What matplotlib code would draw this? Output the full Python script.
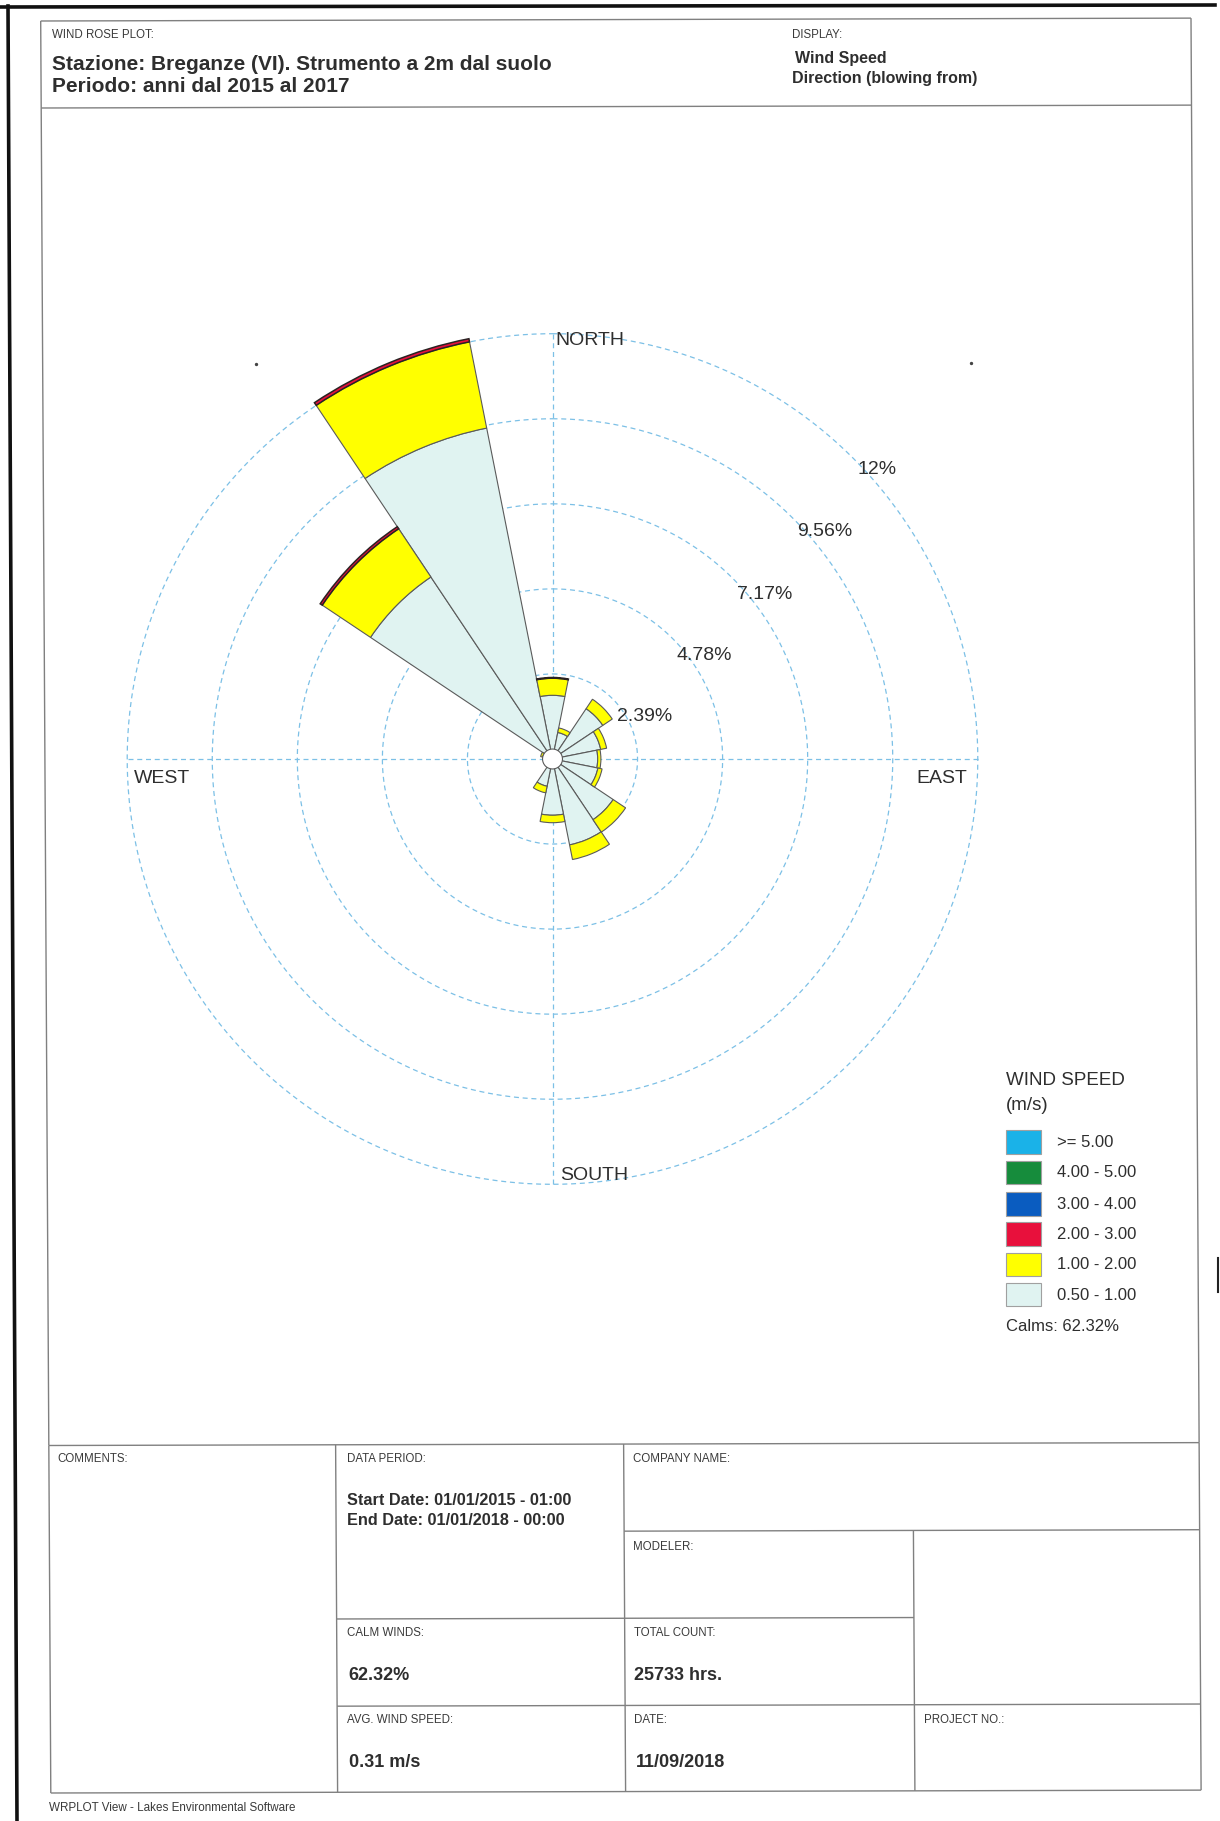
import numpy as np
import matplotlib
matplotlib.use('Agg')
import matplotlib.pyplot as plt
from matplotlib.patches import Rectangle, Circle

plt.rcParams['font.family'] = ['Liberation Sans', 'DejaVu Sans']

# ---------------- data ----------------
directions = ['N', 'NNE', 'NE', 'ENE', 'E', 'ESE', 'SE', 'SSE',
              'S', 'SSW', 'SW', 'WSW', 'W', 'WNW', 'NW', 'NNW']
# frequency (%) per wind-speed class and direction
freq_05_10 = [1.79, 0.76, 1.70, 1.38, 1.27, 1.30, 2.05, 2.46,
              1.58, 0.78, 0.10, 0.08, 0.10, 0.28, 6.15, 9.48]
freq_10_20 = [0.48, 0.13, 0.32, 0.17, 0.09, 0.12, 0.42, 0.42,
              0.21, 0.19, 0.00, 0.00, 0.00, 0.06, 1.63, 2.47]
freq_20_30 = [0.02, 0.00, 0.00, 0.00, 0.00, 0.00, 0.00, 0.00,
              0.00, 0.00, 0.00, 0.00, 0.00, 0.00, 0.07, 0.09]
freq_30_40 = [0.0] * 16
freq_40_50 = [0.0] * 16
freq_ge_50 = [0.0] * 16

class_labels = ['0.50 - 1.00', '1.00 - 2.00', '2.00 - 3.00',
                '3.00 - 4.00', '4.00 - 5.00', '>= 5.00']
ring_values = [2.39, 4.78, 7.17, 9.56, 11.95]
ring_labels = ['2.39%', '4.78%', '7.17%', '9.56%', '12%']
cardinal_labels = ['NORTH', 'EAST', 'SOUTH', 'WEST']
calms_pct = 62.32

title_lines = ['Stazione: Breganze (VI). Strumento a 2m dal suolo',
               'Periodo: anni dal 2015 al 2017']
display_lines = ['Wind Speed', 'Direction (blowing from)']
start_date = 'Start Date: 01/01/2015 - 01:00'
end_date = 'End Date: 01/01/2018 - 00:00'
total_count = '25733 hrs.'
avg_speed = '0.31 m/s'
report_date = '11/09/2018'

# ---------------- styles ----------------
class_colors = ['#e0f3f1', '#ffff00', '#e8103c', '#0a5cc0', '#168c3c', '#1ab2e8']
grid_color = '#7cc0e6'
txt_color = '#2e2e2e'
line_color = '#808080'

W, H = 1220, 1821
fig = plt.figure(figsize=(W / 100, H / 100), dpi=100)
fig.patch.set_facecolor('white')

bg = fig.add_axes([0, 0, 1, 1])
bg.set_xlim(0, W)
bg.set_ylim(H, 0)
bg.axis('off')

KX, KY = 0.0057, 0.0025


def sk(x, y):
    return x + KX * (y - 21), y - KY * (x - 40)


def seg(x1, y1, x2, y2, **kw):
    a = sk(x1, y1)
    b = sk(x2, y2)
    bg.plot([a[0], b[0]], [a[1], b[1]], **kw)


frame_kw = dict(color=line_color, lw=1.0, solid_capstyle='butt')
# page scan border
bg.plot([0, 1215], [7, 5], color='#111111', lw=2.6)
bg.plot([8, 17], [6, 1821], color='#111111', lw=2.6)
bg.plot([1218, 1218], [1258, 1292], color='#222222', lw=1.5)
bg.plot([255.6, 970.5], [363.7, 363.2], ls='none', marker='o', ms=1.4, color='#444444')

# header + frame
L, R = 40.7, 1191.0
seg(L, 21, R, 21, **frame_kw)
seg(L, 108, R, 108, **frame_kw)
seg(L, 21, L, 1445.5, **frame_kw)
seg(R, 21, R, 1445.5, **frame_kw)

# table
cols = [40.7, 327.5, 615.5, 904.8, 1191.0]
rows = [1445.5, 1532.6, 1619.7, 1706.9, 1793.0]
seg(cols[0], rows[0], cols[4], rows[0], **frame_kw)
seg(cols[0], rows[4], cols[4], rows[4], **frame_kw)
seg(cols[0], rows[0], cols[0], rows[4], **frame_kw)
seg(cols[4], rows[0], cols[4], rows[4], **frame_kw)
seg(cols[1], rows[0], cols[1], rows[4], **frame_kw)
seg(cols[2], rows[0], cols[2], rows[4], **frame_kw)
seg(cols[3], rows[1], cols[3], rows[4], **frame_kw)
seg(cols[2], rows[1], cols[4], rows[1], **frame_kw)
seg(cols[1], rows[2], cols[3], rows[2], **frame_kw)
seg(cols[1], rows[3], cols[4], rows[3], **frame_kw)

small = dict(fontsize=8.3, color='#3a3a3a', va='center', ha='left')
bold_md = dict(fontsize=11.7, color=txt_color, va='center', ha='left', fontweight='bold')
bold_lg = dict(fontsize=13, color=txt_color, va='center', ha='left', fontweight='bold')

# header texts
bg.text(51.7, 35.5, 'WIND ROSE PLOT:', **small)
bg.text(51.7, 64.5, title_lines[0], fontsize=15, fontweight='bold', color=txt_color, va='center')
bg.text(51.7, 87.0, title_lines[1], fontsize=15, fontweight='bold', color=txt_color, va='center')
bg.text(791.7, 35.0, 'DISPLAY:', **small)
bg.text(795.0, 58.3, display_lines[0], fontsize=11.5, fontweight='bold', color=txt_color, va='center')
bg.text(791.7, 78.3, display_lines[1], fontsize=11.5, fontweight='bold', color=txt_color, va='center')

# table texts
bg.text(57.0, 1459.5, 'COMMENTS:', **small)
bg.text(347.4, 1459.5, 'DATA PERIOD:', **small)
bg.text(347.4, 1500.5, start_date, **bold_md)
bg.text(347.4, 1520.5, end_date, **bold_md)
bg.text(633.0, 1459.5, 'COMPANY NAME:', **small)
bg.text(633.0, 1546.6, 'MODELER:', **small)
bg.text(347.4, 1632.6, 'CALM WINDS:', **small)
bg.text(348.0, 1675.0, f'{calms_pct:.2f}%', **bold_lg)
bg.text(634.4, 1632.6, 'TOTAL COUNT:', **small)
bg.text(634.4, 1675.0, total_count, **bold_lg)
bg.text(347.4, 1719.8, 'AVG. WIND SPEED:', **small)
bg.text(348.6, 1762.5, avg_speed, **bold_lg)
bg.text(634.4, 1719.8, 'DATE:', **small)
bg.text(636.0, 1762.5, report_date, **bold_lg)
bg.text(923.8, 1719.8, 'PROJECT NO.:', **small)
bg.text(48.8, 1808.0, 'WRPLOT View - Lakes Environmental Software', fontsize=8.4,
        color='#3a3a3a', va='center', ha='left')

# legend
bg.text(1006, 1080.5, 'WIND SPEED', fontsize=13.5, color=txt_color, va='center')
bg.text(1006, 1105.0, '(m/s)', fontsize=13.5, color=txt_color, va='center')
leg_y = [1142.2, 1172.4, 1203.8, 1234.0, 1264.3, 1294.5]
for i, (lab, col) in enumerate(zip(class_labels[::-1], class_colors[::-1])):
    y = leg_y[i]
    bg.add_patch(Rectangle((1006, y - 11.8), 35, 23.6, facecolor=col,
                           edgecolor='#a0a0a0', lw=0.8))
    bg.text(1057, y + 0.5, lab, fontsize=12, color=txt_color, va='center')
bg.text(1006, 1326.5, f'Calms: {calms_pct:.2f}%', fontsize=12, color=txt_color, va='center')

# ---------------- wind rose ----------------
cx, cy = 552.5, 759.0
px_per_pct = 35.59
rmax = 12.4
Rpx = rmax * px_per_pct
ax = fig.add_axes([(cx - Rpx) / W, (H - cy - Rpx) / H, 2 * Rpx / W, 2 * Rpx / H],
                  projection='polar')
ax.set_theta_zero_location('N')
ax.set_theta_direction(-1)
ax.set_ylim(0, rmax)
ax.axis('off')
ax.patch.set_alpha(0)

dash = (0, (4, 3))
tt = np.linspace(0, 2 * np.pi, 720)
for r in ring_values:
    ax.plot(tt, np.full_like(tt, r), color=grid_color, lw=0.9, ls=dash, zorder=1)
for t in [0, np.pi / 2, np.pi, 3 * np.pi / 2]:
    ax.plot([t, t], [0, ring_values[-1]], color=grid_color, lw=0.9, ls=dash, zorder=1)

theta = np.deg2rad(np.arange(len(directions)) * 22.5)
width = np.deg2rad(22.5)
series = [freq_05_10, freq_10_20, freq_20_30, freq_30_40, freq_40_50, freq_ge_50]
edge_cols = ['#5a5a5a', '#5a5a5a', '#2a2222', '#333333', '#333333', '#333333']
edge_lws = [0.8, 0.8, 1.1, 0.8, 0.8, 0.8]
bottom = np.zeros(len(directions))
for vals, col, ec, lw in zip(series, class_colors, edge_cols, edge_lws):
    v = np.asarray(vals, dtype=float)
    m = v > 0
    if m.any():
        ax.bar(theta[m], v[m], width=width, bottom=bottom[m], color=col,
               edgecolor=ec, linewidth=lw, zorder=3, align='center')
    bottom += v

# central calm circle
calm_r = 0.28
ax.add_patch(Circle((0.5, 0.5), 0.5 * calm_r / rmax, transform=ax.transAxes,
                    facecolor='white', edgecolor='#5a5a5a', lw=0.8, zorder=6))

px2pt = 0.72
ring_dy = [-18.0, -17.0, -16.0, -13.0, -11.0]
for r, lab, dy in zip(ring_values, ring_labels, ring_dy):
    ax.annotate(lab, xy=(np.deg2rad(45), r), xytext=(4 * px2pt, dy * px2pt),
                textcoords='offset points', ha='left', va='center', fontsize=14,
                color=txt_color, annotation_clip=False, zorder=7)

rout = ring_values[-1]
card_pos = [(0.0, (2.5, -7.0), 'left'),
            (np.pi / 2, (-10.5, -19.5), 'right'),
            (np.pi, (8.0, 8.5), 'left'),
            (3 * np.pi / 2, (7.0, -19.5), 'left')]
for (t, (dx, dy), ha), lab in zip(card_pos, cardinal_labels):
    ax.annotate(lab, xy=(t, rout), xytext=(dx * px2pt, dy * px2pt),
                textcoords='offset points', ha=ha, va='center', fontsize=14,
                color=txt_color, annotation_clip=False, zorder=7)

fig.savefig('out.png', dpi=100, facecolor='white')
